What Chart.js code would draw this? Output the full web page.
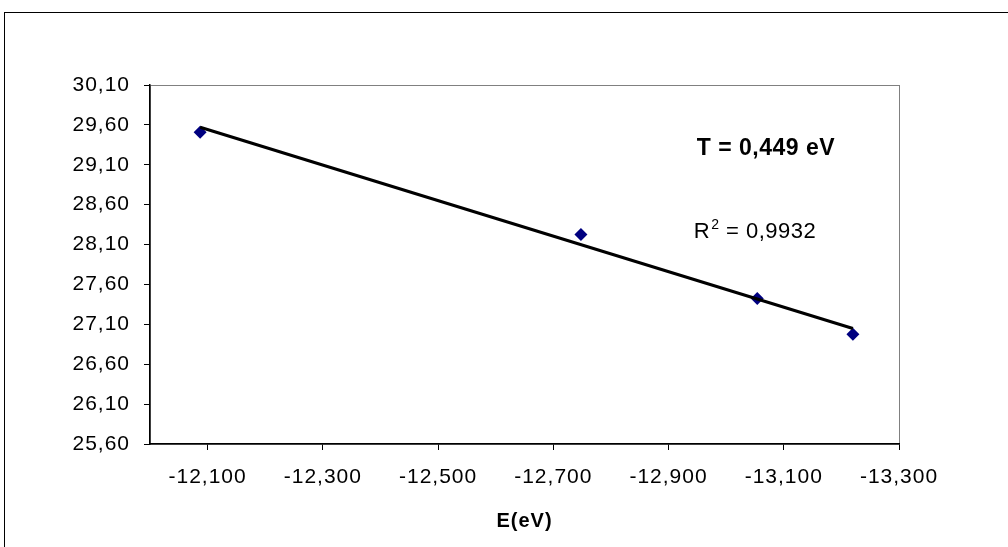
<!DOCTYPE html>
<html>
<head>
<meta charset="utf-8">
<script src="https://cdn.jsdelivr.net/npm/chart.js@4/dist/chart.umd.min.js"></script>
<style>
  html, body { margin: 0; padding: 0; background: #fff; }
  #wrap { width: 1008px; height: 547px; position: relative; }
</style>
</head>
<body>
<div id="wrap"><canvas id="c" width="1008" height="547"></canvas></div>
<script>
// Measured energies (eV) and the corresponding log values
const energies = [-12.087, -12.748, -13.054, -13.220];
const logValues = [29.507, 28.227, 27.424, 26.976];

// Axis tick positions
const xTickValues = [-12.1, -12.3, -12.5, -12.7, -12.9, -13.1, -13.3];
const yTickValues = [25.6, 26.1, 26.6, 27.1, 27.6, 28.1, 28.6, 29.1, 29.6, 30.1];

// Fit results shown on the chart
const temperature = 0.449;   // eV
const rSquared = 0.9932;

const FONT = '"Liberation Sans", Arial, sans-serif';

// Trend line: slope 1/T through the centroid of the points
const meanX = energies.reduce((a, b) => a + b, 0) / energies.length;
const meanY = logValues.reduce((a, b) => a + b, 0) / logValues.length;
const slope = 1 / temperature;
const fitAt = x => meanY + slope * (x - meanX);
const xFirst = energies[0], xLast = energies[energies.length - 1];
const trendPoints = [
  { x: xFirst, y: fitAt(xFirst) },
  { x: xLast, y: fitAt(xLast) }
];

const fmt = (v, d) => v.toFixed(d).replace('.', ',');

// Frame around the figure and a grey box around the plot area
const framePlugin = {
  id: 'frame',
  beforeDraw(chart) {
    const ctx = chart.ctx;
    ctx.letterSpacing = '1px';
    ctx.save();
    ctx.strokeStyle = '#000';
    ctx.lineWidth = 1;
    ctx.strokeRect(4.5, 12.5, chart.width + 20, chart.height + 20);
    const a = chart.chartArea;
    ctx.strokeStyle = '#808080';
    ctx.lineWidth = 1;
    ctx.strokeRect(a.left + 0.5, a.top + 0.5, a.right - a.left, a.bottom - a.top);
    ctx.restore();
  }
};

// Text labels inside the plot area
const notesPlugin = {
  id: 'notes',
  afterDatasetsDraw(chart) {
    const ctx = chart.ctx;
    const a = chart.chartArea;
    const w = a.right - a.left, h = a.bottom - a.top;
    ctx.save();
    ctx.fillStyle = '#000';
    ctx.textBaseline = 'alphabetic';
    ctx.textAlign = 'left';
    ctx.letterSpacing = '0.5px';
    ctx.font = 'bold 23px ' + FONT;
    ctx.fillText('T = ' + fmt(temperature, 3) + ' eV', a.left + 0.730 * w, a.top + 0.195 * h);

    let x = a.left + 0.726 * w;
    const y = a.top + 0.425 * h;
    ctx.font = '22px ' + FONT;
    ctx.fillText('R', x, y);
    x += ctx.measureText('R').width + 1;
    ctx.font = '14px ' + FONT;
    ctx.fillText('2', x, y - 9);
    x += ctx.measureText('2').width;
    ctx.font = '22px ' + FONT;
    ctx.fillText(' = ' + fmt(rSquared, 4), x, y);
    ctx.restore();
  }
};

new Chart(document.getElementById('c'), {
  type: 'scatter',
  data: {
    datasets: [
      {
        type: 'line',
        data: trendPoints,
        borderColor: '#000',
        borderWidth: 3,
        pointRadius: 0,
        fill: false,
        order: 0
      },
      {
        data: energies.map((x, i) => ({ x, y: logValues[i] })),
        backgroundColor: '#000080',
        borderColor: '#000080',
        pointStyle: 'rectRot',
        pointRadius: 6.5,
        borderWidth: 0,
        order: 1
      }
    ]
  },
  options: {
    responsive: false,
    animation: false,
    layout: { padding: { left: 0, top: 85, right: 109, bottom: 0 } },
    plugins: {
      legend: { display: false },
      tooltip: { enabled: false }
    },
    scales: {
      x: {
        type: 'linear',
        reverse: true,
        min: -13.3,
        max: -12.0,
        afterBuildTicks(scale) { scale.ticks = xTickValues.map(v => ({ value: v })); },
        afterFit(scale) { scale.height = 103; },
        border: { display: true, color: '#000', width: 1.5 },
        grid: { display: true, drawOnChartArea: false, drawTicks: true, tickLength: 6, color: '#000', tickWidth: 1 },
        ticks: {
          color: '#000',
          font: { family: FONT, size: 21 },
          padding: 15,
          maxRotation: 0,
          autoSkip: false,
          callback: v => fmt(v, 3)
        },
        title: {
          display: true,
          text: 'E(eV)',
          color: '#000',
          font: { family: FONT, size: 20, weight: 'bold' },
          padding: { top: 0, bottom: 14 }
        }
      },
      y: {
        type: 'linear',
        min: 25.6,
        max: 30.1,
        afterBuildTicks(scale) { scale.ticks = yTickValues.map(v => ({ value: v })); },
        afterFit(scale) { scale.width = 150; },
        border: { display: true, color: '#000', width: 1.5 },
        grid: { display: true, drawOnChartArea: false, drawTicks: true, tickLength: 6, color: '#000', tickWidth: 1 },
        ticks: {
          color: '#000',
          font: { family: FONT, size: 21 },
          padding: 14,
          callback: v => fmt(v, 2)
        }
      }
    }
  },
  plugins: [framePlugin, notesPlugin]
});
</script>
</body>
</html>
